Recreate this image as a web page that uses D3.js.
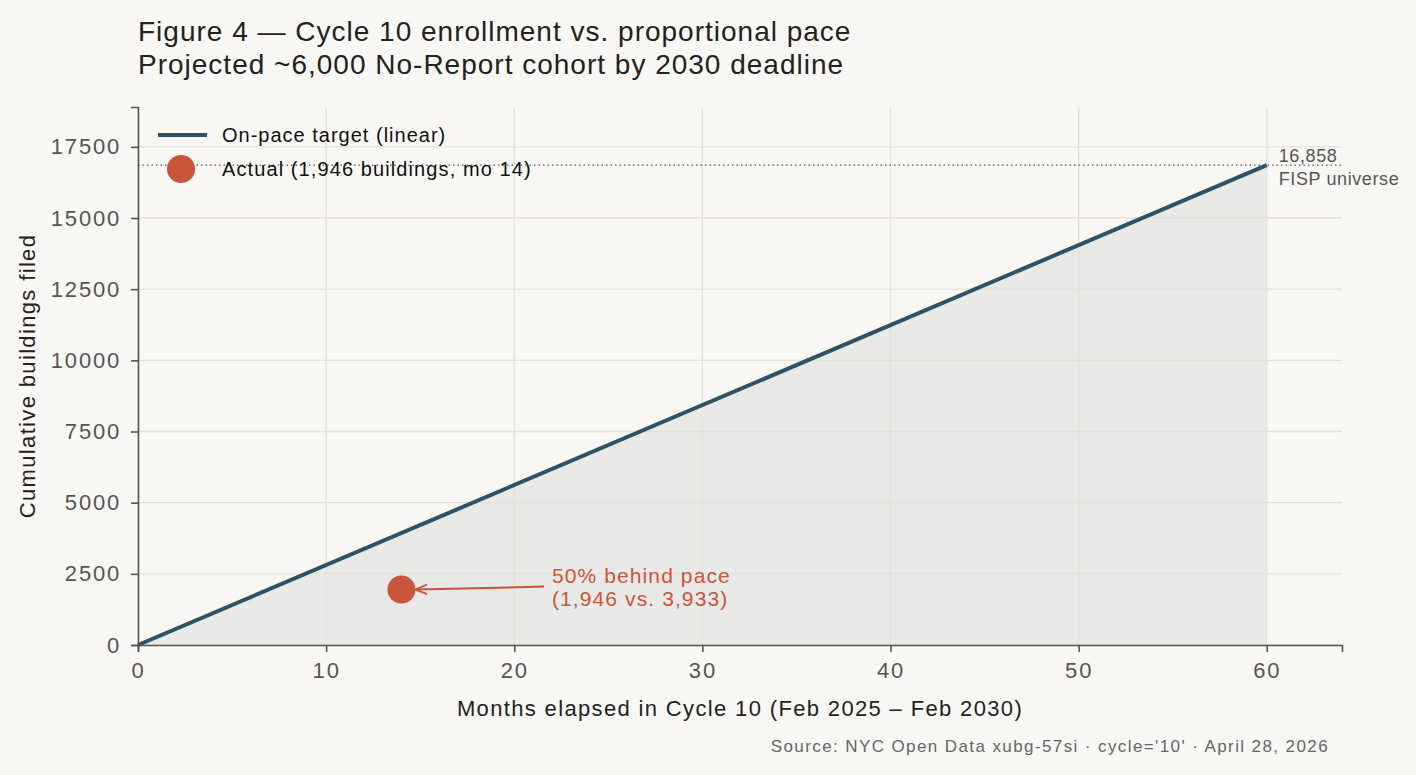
<!DOCTYPE html>
<html>
<head>
<meta charset="utf-8">
<script src="https://cdn.jsdelivr.net/npm/d3@7"></script>
<style>
  body { margin: 0; background: #f9f8f4; }
  svg { display: block; font-family: "Liberation Sans", Arial, sans-serif; }
</style>
</head>
<body>
<svg id="chart" width="1416" height="775"></svg>
<script>
// Données
const months = [0, 60];
const target = [0, 16858];
const actualMonth = 14;
const actualValue = 1946;
const paceValue = 3933;
const universe = 16858;
const xTicks = [0, 10, 20, 30, 40, 50, 60];
const yTicks = [0, 2500, 5000, 7500, 10000, 12500, 15000, 17500];

const svg = d3.select("#chart");
svg.append("rect").attr("width", 1416).attr("height", 775).attr("fill", "#f9f8f4");

const margin = {left: 138, right: 74, top: 107, bottom: 130};
const W = 1416, H = 775;
const fmt = d3.format(",");

const x = d3.scaleLinear().domain([0, 64]).range([margin.left, W - margin.right]);
const y = d3.scaleLinear().domain([0, 18900]).range([H - margin.bottom, margin.top]);

const line = months.map((m, i) => [m, target[i]]);

// Aire sous la cible
svg.append("path")
    .attr("d", d3.area().x(d => x(d[0])).y0(y(0)).y1(d => y(d[1]))(line))
    .attr("fill", "#e9e9e7");

// Grille
svg.append("g").selectAll("line").data(xTicks).enter().append("line")
    .attr("x1", d => x(d)).attr("x2", d => x(d))
    .attr("y1", y.range()[1]).attr("y2", y.range()[0])
    .attr("stroke", "#e3e1d9").attr("stroke-width", 1.3);
svg.append("g").selectAll("line").data(yTicks).enter().append("line")
    .attr("x1", x.range()[0]).attr("x2", x.range()[1])
    .attr("y1", d => y(d)).attr("y2", d => y(d))
    .attr("stroke", "#e3e1d9").attr("stroke-width", 1.3);

// Ligne pointillée 16,858
svg.append("line")
    .attr("x1", x.range()[0]).attr("x2", x.range()[1])
    .attr("y1", y(universe)).attr("y2", y(universe))
    .attr("stroke", "#555").attr("stroke-width", 1.2).attr("stroke-dasharray", "1.5,3");

// Ligne cible
svg.append("path")
    .attr("d", d3.line().x(d => x(d[0])).y(d => y(d[1]))(line))
    .attr("fill", "none").attr("stroke", "#2e5266").attr("stroke-width", 4);

// Axes
const xAxis = svg.append("g")
    .attr("transform", `translate(0,${y(0)})`)
    .call(d3.axisBottom(x).tickValues(xTicks).tickSizeOuter(0).tickSize(7).tickPadding(10));
const yAxis = svg.append("g")
    .attr("transform", `translate(${x(0)},0)`)
    .call(d3.axisLeft(y).tickValues(yTicks).tickSizeOuter(0).tickSize(7).tickPadding(10).tickFormat(d3.format("d")));
[xAxis, yAxis].forEach(a => {
    a.select(".domain").attr("stroke", "#555").attr("stroke-width", 1.6);
    a.selectAll(".tick line").attr("stroke", "#555").attr("stroke-width", 1.6);
    a.selectAll(".tick text").attr("fill", "#555").style("font-size", "22px")
        .style("letter-spacing", "1.8px")
        .style("font-family", "'Liberation Sans', Arial, sans-serif");
});

// Point actuel
svg.append("circle")
    .attr("cx", x(actualMonth)).attr("cy", y(actualValue)).attr("r", 14)
    .attr("fill", "#c9553b");

// Annotation
svg.append("defs").append("marker")
    .attr("id", "arrow").attr("viewBox", "0 0 10 10")
    .attr("refX", 9).attr("refY", 5).attr("markerWidth", 6).attr("markerHeight", 6)
    .attr("orient", "auto")
    .append("path").attr("d", "M0,1 L10,5 L0,9").attr("fill", "none")
    .attr("stroke", "#c9553b").attr("stroke-width", 1.5);
svg.append("line")
    .attr("x1", 544).attr("y1", y(actualValue) - 3)
    .attr("x2", x(actualMonth) + 15).attr("y2", y(actualValue))
    .attr("stroke", "#c9553b").attr("stroke-width", 2)
    .attr("marker-end", "url(#arrow)");
const ann = svg.append("text").attr("y", 583)
    .attr("fill", "#c9553b").style("font-size", "21px").style("letter-spacing", "1.1px");
ann.append("tspan").attr("x", 552).text("50% behind pace");
ann.append("tspan").attr("x", 552).attr("dy", 23)
    .text(`(${fmt(actualValue)} vs. ${fmt(paceValue)})`);

// Étiquette univers
const uni = svg.append("text").attr("y", 162)
    .attr("fill", "#555").style("font-size", "18px").style("letter-spacing", "0.6px");
uni.append("tspan").attr("x", x(60) + 12).text(fmt(universe));
uni.append("tspan").attr("x", x(60) + 12).attr("dy", 23).text("FISP universe");

// Légende
svg.append("line").attr("x1", 158).attr("x2", 207).attr("y1", 135).attr("y2", 135)
    .attr("stroke", "#2e5266").attr("stroke-width", 4);
svg.append("text").attr("x", 222).attr("y", 142).attr("fill", "#111")
    .style("font-size", "20px").style("letter-spacing", "1px").text("On-pace target (linear)");
svg.append("circle").attr("cx", 181).attr("cy", 169).attr("r", 14).attr("fill", "#c9553b");
svg.append("text").attr("x", 222).attr("y", 176).attr("fill", "#111")
    .style("font-size", "20px").style("letter-spacing", "1.1px")
    .text(`Actual (${fmt(actualValue)} buildings, mo ${actualMonth})`);

// Titres
svg.append("text").attr("x", 138).attr("y", 41).attr("fill", "#222")
    .style("font-size", "28px").style("letter-spacing", "1px")
    .text("Figure 4 \u2014 Cycle 10 enrollment vs. proportional pace");
svg.append("text").attr("x", 138).attr("y", 74).attr("fill", "#222")
    .style("font-size", "28px").style("letter-spacing", "1px")
    .text("Projected ~6,000 No-Report cohort by 2030 deadline");

// Libellés des axes
svg.append("text").attr("x", 740).attr("y", 716).attr("text-anchor", "middle")
    .attr("fill", "#222").style("font-size", "22px").style("letter-spacing", "1.35px")
    .text("Months elapsed in Cycle 10 (Feb 2025 \u2013 Feb 2030)");
svg.append("text").attr("transform", `translate(35,${(y(0) + y.range()[1]) / 2}) rotate(-90)`)
    .attr("text-anchor", "middle").attr("fill", "#222").style("font-size", "22px")
    .style("letter-spacing", "1.35px")
    .text("Cumulative buildings filed");

// Source
svg.append("text").attr("x", 1329).attr("y", 752).attr("text-anchor", "end")
    .attr("fill", "#666").style("font-size", "17px").style("letter-spacing", "1.4px")
    .text("Source: NYC Open Data xubg-57si \u00b7 cycle='10' \u00b7 April 28, 2026");
</script>
</body>
</html>
